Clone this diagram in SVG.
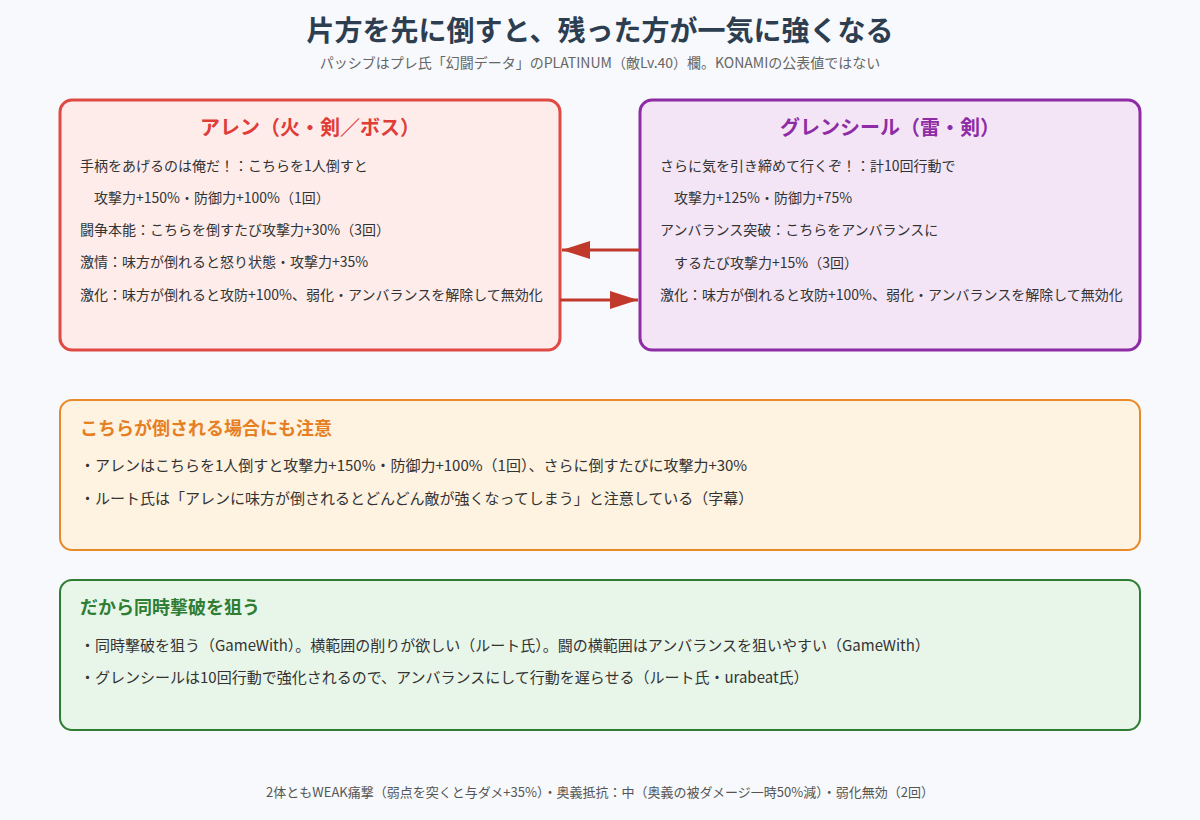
<svg xmlns="http://www.w3.org/2000/svg" width="1200" height="820" viewBox="0 0 1200 820">
<style>
text{font-family:"Noto Sans CJK JP","Noto Sans",sans-serif;}
.b{font-size:14px;fill:#333;dominant-baseline:middle}
.l{font-size:15px;fill:#333;dominant-baseline:middle}
.h{font-size:20px;font-weight:bold;text-anchor:middle;dominant-baseline:middle}
.s{font-size:18px;font-weight:bold;dominant-baseline:middle}
.con{stroke:#c0392b;stroke-width:3;fill:none}
</style>
<defs>
<marker id="a" viewBox="0 0 10 10" refX="10" refY="5" markerWidth="28" markerHeight="18" markerUnits="userSpaceOnUse" orient="auto" preserveAspectRatio="none"><path d="M0,0L10,5L0,10z" fill="#c0392b"/></marker></defs>
<rect width="1200" height="820" fill="#f7f9fc"/>
<text x="600" y="33" text-anchor="middle" dominant-baseline="middle" font-size="28" font-weight="bold" fill="#2c3e50">片方を先に倒すと、残った方が一気に強くなる</text>
<text x="600" y="64" text-anchor="middle" dominant-baseline="middle" font-size="14" fill="#666">パッシブはプレ氏「幻闘データ」のPLATINUM（敵Lv.40）欄。KONAMIの公表値ではない</text>
<g id="allen">
<rect x="60" y="100" width="500" height="250" rx="12" fill="#fdecea" stroke="#e04a45" stroke-width="3"/>
<text class="h" x="310" y="130" fill="#e03c38">アレン（火・剣／ボス）</text>
<text class="b" x="80" y="167">手柄をあげるのは俺だ！：こちらを1人倒すと</text>
<text class="b" x="94" y="199">攻撃力+150%・防御力+100%（1回）</text>
<text class="b" x="80" y="231">闘争本能：こちらを倒すたび攻撃力+30%（3回）</text>
<text class="b" x="80" y="263">激情：味方が倒れると怒り状態・攻撃力+35%</text>
<text class="b" x="80" y="296">激化：味方が倒れると攻防+100%、弱化・アンバランスを解除して無効化</text>
</g>
<g id="glenseal">
<rect x="640" y="100" width="500" height="250" rx="12" fill="#f3e5f5" stroke="#8e2ca6" stroke-width="3"/>
<text class="h" x="890" y="130" fill="#8e2ca6">グレンシール（雷・剣）</text>
<text class="b" x="660" y="167">さらに気を引き締めて行くぞ！：計10回行動で</text>
<text class="b" x="674" y="199">攻撃力+125%・防御力+75%</text>
<text class="b" x="660" y="231">アンバランス突破：こちらをアンバランスに</text>
<text class="b" x="674" y="264">するたび攻撃力+15%（3回）</text>
<text class="b" x="660" y="296">激化：味方が倒れると攻防+100%、弱化・アンバランスを解除して無効化</text>
</g>
<g id="connectors">
<line class="con" x1="640" y1="250" x2="562" y2="250" marker-end="url(#a)"/>
<line class="con" x1="560" y1="300" x2="638" y2="300" marker-end="url(#a)"/>
</g>
<g id="caution">
<rect x="60" y="400" width="1080" height="150" rx="12" fill="#fef2e0" stroke="#e8892a" stroke-width="2"/>
<text class="s" x="80" y="430" fill="#e67e22">こちらが倒される場合にも注意</text>
<text class="l" x="80" y="467">・アレンはこちらを1人倒すと攻撃力+150%・防御力+100%（1回）、さらに倒すたびに攻撃力+30%</text>
<text class="l" x="80" y="500">・ルート氏は「アレンに味方が倒されるとどんどん敵が強くなってしまう」と注意している（字幕）</text>
</g>
<g id="strategy">
<rect x="60" y="580" width="1080" height="150" rx="12" fill="#e8f5e9" stroke="#2e7d32" stroke-width="2"/>
<text class="s" x="80" y="609" fill="#2e7d32">だから同時撃破を狙う</text>
<text class="l" x="80" y="647">・同時撃破を狙う（GameWith）。横範囲の削りが欲しい（ルート氏）。闘の横範囲はアンバランスを狙いやすい（GameWith）</text>
<text class="l" x="80" y="679">・グレンシールは10回行動で強化されるので、アンバランスにして行動を遅らせる（ルート氏・urabeat氏）</text>
</g>
<text x="600" y="793" text-anchor="middle" dominant-baseline="middle" font-size="13" fill="#555">2体ともWEAK痛撃（弱点を突くと与ダメ+35%）・奥義抵抗：中（奥義の被ダメージ一時50%減）・弱化無効（2回）</text>
</svg>
